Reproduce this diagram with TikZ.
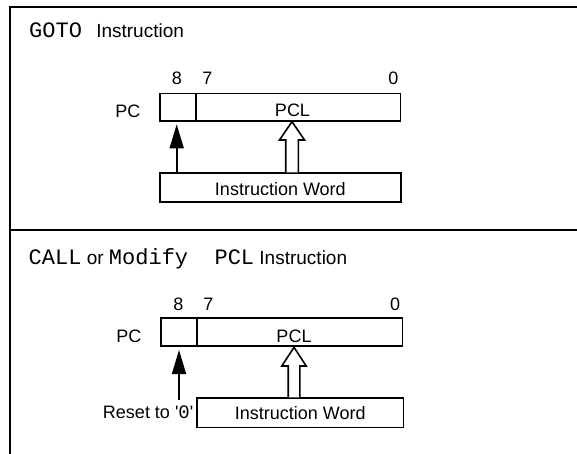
\documentclass[tikz,border=0pt]{standalone}
\usepackage{fontspec}
\setmainfont{Liberation Sans}
\setmonofont{Liberation Mono}
\usetikzlibrary{arrows.meta,calc}
\newcommand\figlbl{\fontsize{18pt}{20pt}\selectfont}
\newcommand\figttl{\fontsize{19pt}{22pt}\selectfont}
\newcommand\figmono{\ttfamily\fontsize{22pt}{24pt}\selectfont}
\newcommand\figmonoS{\ttfamily\fontsize{19pt}{21pt}\selectfont}
\begin{document}
\begin{tikzpicture}[x=1pt,y=-1pt,
  frame/.style={line width=2.2pt},
  box/.style={draw, line width=1.7pt, inner sep=0pt, anchor=north west, font=\figlbl},
  lbl/.style={inner sep=0pt, font=\figlbl},
  ttl/.style={inner sep=0pt, anchor=base west, font=\figttl},
  solidarr/.style={line width=1.7pt, -{Triangle[length=24pt,width=14pt]}},
  hollow/.style={line width=1.6pt, fill=white, line join=miter}
]
\useasboundingbox (0,0) rectangle (577,454);
% frame
\draw[frame] (10,454) -- (10,7) -- (577,7);
\draw[frame] (10,230) -- (577,230);

% ---------- GOTO panel ----------
\node[ttl] (t1) at (29,38) {{\figmono GOTO}\hspace{9pt} Instruction};
\node[lbl, anchor=base] (d8a) at (177,85) {8};
\node[lbl, anchor=base] (d7a) at (207.3,85) {7};
\node[lbl, anchor=base] (d0a) at (393.3,85) {0};
\node[lbl, anchor=base east] (pca) at (140.5,117.5) {PC};
\node[box, minimum width=36pt, minimum height=27.3pt] (b8a) at (159,92.7) {};
\node[box, minimum width=204.5pt, minimum height=27.3pt] (pcla) at (195,92.7) {};
\node[lbl, anchor=base] (pclta) at (292.5,117) {PCL};
\node[box, minimum width=241pt, minimum height=28.7pt, text height=22.2pt, text depth=6.5pt] (iwa) at (159,172.3) {Instruction Word};
\coordinate (tipa) at (176.7,124.3);
\draw[solidarr] (iwa.north -| tipa) -- (tipa);
\coordinate (hta) at (292,121.7);
\draw[hollow] (hta |- iwa.north) ++(-6.3,0) -- ++(0,-32.3) -- ++(-6.2,0) -- (hta)
  -- ++(12.5,18.3) -- ++(-6.2,0) -- ++(0,32.3);

% ---------- CALL panel ----------
\node[ttl] (t2) at (28.5,264) {{\figmono CALL} or {\figmono Modify\ \ PCL} Instruction};
\node[lbl, anchor=base] (d8b) at (178.3,310) {8};
\node[lbl, anchor=base] (d7b) at (208.3,310) {7};
\node[lbl, anchor=base] (d0b) at (395,310) {0};
\node[lbl, anchor=base east] (pcb) at (141.5,342.5) {PC};
\node[box, minimum width=36pt, minimum height=27.7pt] (b8b) at (160,317.3) {};
\node[box, minimum width=205.7pt, minimum height=27.7pt] (pclb) at (196,317.3) {};
\node[lbl, anchor=base] (plctb) at (294,342) {PCL};
\node[box, minimum width=206.7pt, minimum height=29.4pt, text height=21.4pt, text depth=8pt] (iwb) at (196,397.3) {Instruction Word};
\node[lbl, anchor=base east] (rst) at (193.5,418.3) {Reset to \textquotesingle{\figmonoS 0}\textquotesingle};
\coordinate (tipb) at (179,350);
\coordinate (srcb) at (179,400);
\draw[solidarr] (srcb) -- (tipb);
\coordinate (htb) at (294,347.3);
\draw[hollow] (htb |- iwb.north) ++(-5.8,0) -- ++(0,-31.3) -- ++(-6.4,0) -- (htb)
  -- ++(12.2,18.7) -- ++(-6.4,0) -- ++(0,31.3);
\end{tikzpicture}
\end{document}
